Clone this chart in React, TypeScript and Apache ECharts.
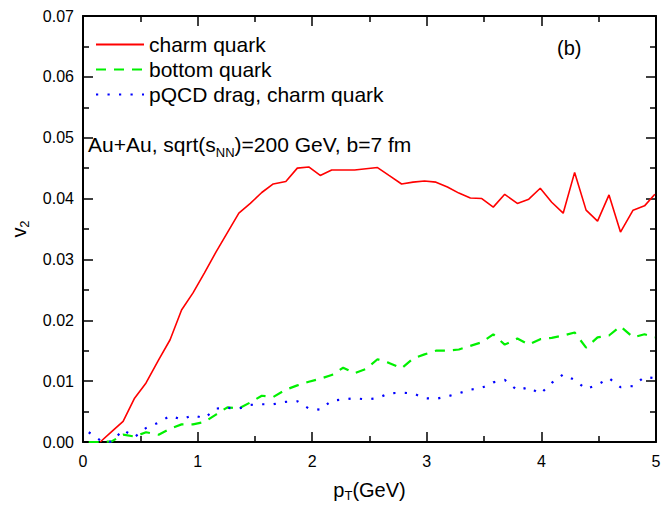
import React, { useEffect, useRef } from "react";
import * as echarts from "echarts";

// transverse momentum grid (GeV)
const pT = [
  0.05, 0.15, 0.25, 0.35, 0.45, 0.55, 0.66, 0.76, 0.86, 0.96,
  1.06, 1.16, 1.26, 1.36, 1.46, 1.56, 1.66, 1.77, 1.87, 1.97,
  2.07, 2.17, 2.27, 2.37, 2.47, 2.57, 2.67, 2.78, 2.88, 2.98,
  3.08, 3.18, 3.28, 3.38, 3.48, 3.58, 3.68, 3.79, 3.89, 3.99,
  4.09, 4.19, 4.29, 4.39, 4.49, 4.59, 4.69, 4.8, 4.9, 4.99,
];

// elliptic flow v2 of charm quarks
const charmV2 = [
  null, 0.0, 0.0017, 0.0034, 0.0072, 0.0097, 0.0135, 0.0168, 0.0217, 0.0245,
  0.0278, 0.0312, 0.0344, 0.0376, 0.0392, 0.041, 0.0424, 0.0428, 0.045, 0.0452,
  0.0438, 0.0447, 0.0447, 0.0447, 0.0449, 0.0451, 0.0438, 0.0424, 0.0427, 0.0429,
  0.0427, 0.0419, 0.0409, 0.0401, 0.04, 0.0386, 0.0407, 0.0392, 0.0399, 0.0417,
  0.0394, 0.0376, 0.0443, 0.0381, 0.0363, 0.0406, 0.0345, 0.0381, 0.0388, 0.0407,
];

// elliptic flow v2 of bottom quarks
const bottomV2 = [
  0.0, 0.0, 0.0001, 0.0012, 0.0009, 0.0016, 0.0012, 0.0022, 0.0029, 0.0029,
  0.0033, 0.0045, 0.0057, 0.0055, 0.0065, 0.0076, 0.0074, 0.0086, 0.0093, 0.0099,
  0.0104, 0.011, 0.0122, 0.0113, 0.012, 0.0136, 0.013, 0.0121, 0.0137, 0.0144,
  0.015, 0.015, 0.0152, 0.0158, 0.0164, 0.0177, 0.016, 0.017, 0.016, 0.0169,
  0.0171, 0.0175, 0.018, 0.0155, 0.0172, 0.0175, 0.019, 0.0172, 0.0177, 0.0172,
];

// elliptic flow v2 of charm quarks with pQCD drag
const pqcdCharmV2 = [
  0.0016, 0.0003, 0.0, 0.002, 0.0008, 0.0023, 0.0032, 0.0043, 0.0037, 0.0044,
  0.0039, 0.0055, 0.0056, 0.0055, 0.0061, 0.0062, 0.0062, 0.0066, 0.0067, 0.0055,
  0.0053, 0.0068, 0.007, 0.0072, 0.007, 0.0072, 0.008, 0.0081, 0.008, 0.0072,
  0.0071, 0.0075, 0.008, 0.0086, 0.0089, 0.0098, 0.0102, 0.0085, 0.009, 0.0079,
  0.0097, 0.0111, 0.0102, 0.0087, 0.0094, 0.0105, 0.009, 0.0092, 0.0107, 0.0105,
];

const seriesNames = ["charm quark", "bottom quark", "pQCD drag, charm quark"];
const seriesColors = ["#ff0000", "#00f000", "#0000ff"];

const FONT = "'Liberation Sans', Arial, Helvetica, sans-serif";

const subRich = (size: number, subSize: number, lh: number) => ({
  m: { fontSize: size, fontFamily: FONT, color: "#000", lineHeight: lh },
  s: {
    fontSize: subSize,
    fontFamily: FONT,
    color: "#000",
    lineHeight: subSize,
    verticalAlign: "bottom",
  },
});

export default function App() {
  const ref = useRef<HTMLDivElement>(null);

  useEffect(() => {
    if (!ref.current) return;
    document.body.style.margin = "0";
    const chart = echarts.init(ref.current, null, { renderer: "svg" });

    const toPairs = (ys: (number | null)[]) =>
      pT.map((x, i) => [x, ys[i] === null ? "-" : ys[i]]);

    const frame = {
      axisLine: { show: true, onZero: false, lineStyle: { color: "#000", width: 2 } },
      axisTick: { show: true, inside: true, length: 10, lineStyle: { color: "#000", width: 1.5 } },
      minorTick: { show: true, splitNumber: 2, length: 6, lineStyle: { color: "#000", width: 1.5 } },
      splitLine: { show: false },
      minorSplitLine: { show: false },
    };

    chart.setOption({
      animation: false,
      backgroundColor: "#fff",
      grid: { left: 83, right: 5, top: 16, bottom: 64, outerBoundsMode: "none", containLabel: false },
      legend: {
        orient: "vertical",
        left: 95,
        top: 34,
        padding: 0,
        itemWidth: 48,
        itemHeight: 14,
        itemGap: 4,
        itemStyle: { opacity: 0 },
        textStyle: { fontSize: 21, fontFamily: FONT, color: "#000", lineHeight: 21 },
        data: seriesNames,
      },
      xAxis: [
        {
          type: "value",
          min: 0,
          max: 5,
          interval: 1,
          position: "bottom",
          ...frame,
          axisLabel: { color: "#000", fontSize: 16, fontFamily: FONT, margin: 11 },
          name: "{m|p}{s|T}{m|(GeV)}",
          nameLocation: "middle",
          nameGap: 36,
          nameTextStyle: { rich: subRich(20, 13, 24) },
        },
        {
          type: "value",
          min: 0,
          max: 5,
          interval: 1,
          position: "top",
          ...frame,
          axisLabel: { show: false },
        },
      ],
      yAxis: [
        {
          type: "value",
          min: 0,
          max: 0.07,
          interval: 0.01,
          position: "left",
          ...frame,
          axisLabel: {
            color: "#000",
            fontSize: 16,
            fontFamily: FONT,
            margin: 9,
            formatter: (v: number) => v.toFixed(2),
          },
          name: "{m|v}{s|2}",
          nameLocation: "middle",
          nameRotate: 90,
          nameGap: 52,
          nameTextStyle: { rich: subRich(20, 13, 24) },
        },
        {
          type: "value",
          min: 0,
          max: 0.07,
          interval: 0.01,
          position: "right",
          ...frame,
          axisLabel: { show: false },
        },
      ],
      graphic: [
        {
          type: "text",
          x: 88,
          y: 144,
          style: {
            text: "{m|Au+Au, sqrt(s}{s|NN}{m|)=200 GeV, b=7 fm}",
            rich: subRich(21, 13, 30),
            verticalAlign: "middle",
          },
        },
        {
          type: "text",
          x: 557,
          y: 48,
          style: {
            text: "(b)",
            fontSize: 20,
            fontFamily: FONT,
            fill: "#000",
            verticalAlign: "middle",
          },
        },
      ],
      series: [
        {
          name: seriesNames[0],
          type: "line",
          data: toPairs(charmV2),
          symbol: "none",
          lineStyle: { color: seriesColors[0], width: 1.6, type: "solid" },
          itemStyle: { color: seriesColors[0] },
        },
        {
          name: seriesNames[1],
          type: "line",
          data: toPairs(bottomV2),
          symbol: "none",
          lineStyle: { color: seriesColors[1], width: 2.2, type: [10, 8] },
          itemStyle: { color: seriesColors[1] },
        },
        {
          name: seriesNames[2],
          type: "line",
          data: toPairs(pqcdCharmV2),
          symbol: "none",
          lineStyle: { color: seriesColors[2], width: 2.2, type: [2.2, 9.3] },
          itemStyle: { color: seriesColors[2] },
        },
      ],
    });

    return () => chart.dispose();
  }, []);

  return <div ref={ref} style={{ width: 661, height: 506 }} />;
}
